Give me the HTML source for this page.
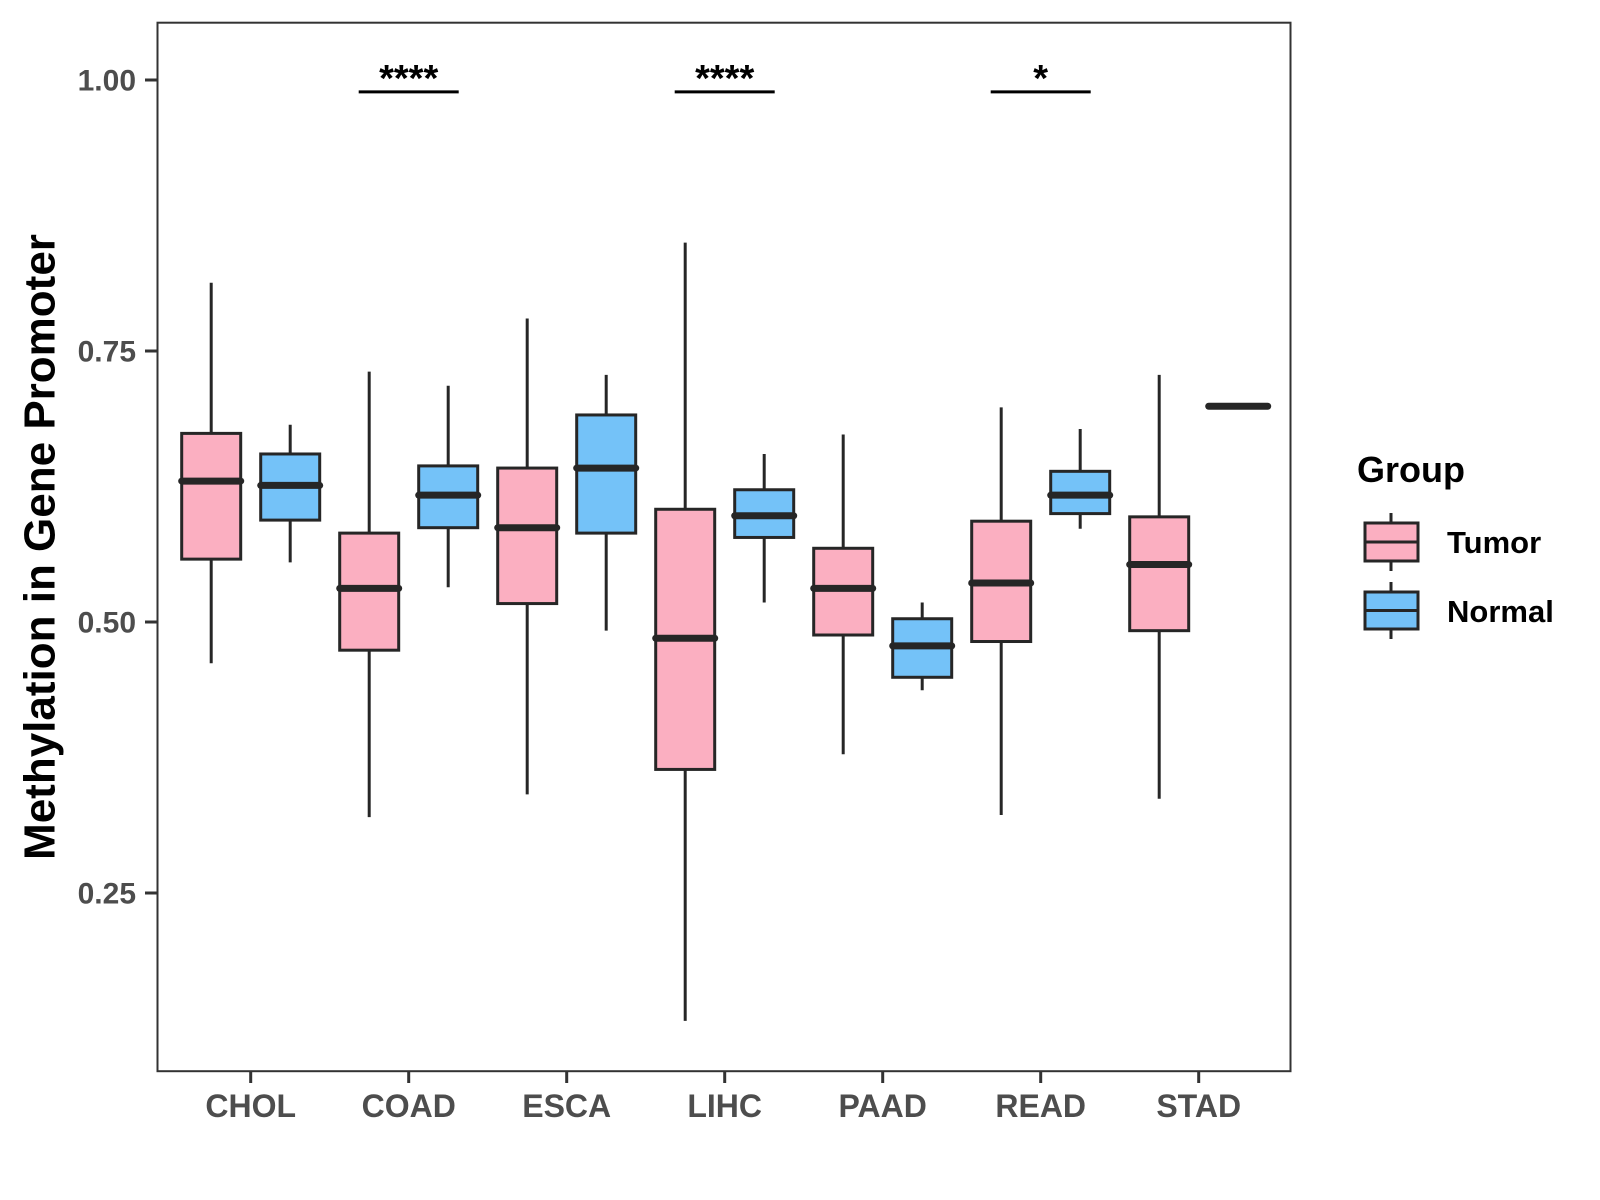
<!DOCTYPE html>
<html><head><meta charset="utf-8"><style>
html,body{margin:0;padding:0;background:#fff}
svg{display:block}
text{font-family:"Liberation Sans",Arial,sans-serif;font-weight:bold}
</style></head>
<body>
<svg id="chart" width="1600" height="1200" viewBox="0 0 1600 1200" xmlns="http://www.w3.org/2000/svg">
<rect x="0" y="0" width="1600" height="1200" fill="#fff"/>
<g id="marks"></g>
<rect x="157.5" y="22.7" width="1133" height="1048.5" fill="none" stroke="#333" stroke-width="2"/>
<g id="axes"></g>
<text x="40" y="547" transform="rotate(-90 40 547)" text-anchor="middle" dominant-baseline="central" font-size="44" fill="#000">Methylation in Gene Promoter</text>
<g>
<text x="1357" y="482" font-size="36" fill="#000">Group</text>
<g>
<line x1="1391" y1="513" x2="1391" y2="571" stroke="#262626" stroke-width="3"/>
<rect x="1365" y="523" width="53" height="38" fill="#FBAFC1" stroke="#262626" stroke-width="3"/>
<line x1="1365" y1="542" x2="1418" y2="542" stroke="#262626" stroke-width="3"/>
<text x="1447" y="553" font-size="31" fill="#000">Tumor</text>
</g>
<g>
<line x1="1391" y1="582" x2="1391" y2="639" stroke="#262626" stroke-width="3"/>
<rect x="1365" y="592" width="53" height="37" fill="#74C2F8" stroke="#262626" stroke-width="3"/>
<line x1="1365" y1="610.5" x2="1418" y2="610.5" stroke="#262626" stroke-width="3"/>
<text x="1447" y="622" font-size="31" fill="#000">Normal</text>
</g>
</g>
</svg>
<script>
const categories = ["CHOL","COAD","ESCA","LIHC","PAAD","READ","STAD"];
// [whiskerLow, q1, median, q3, whiskerHigh]
const tumorStats = [
  [0.462,0.558,0.630,0.674,0.813],
  [0.320,0.474,0.531,0.582,0.731],
  [0.341,0.517,0.587,0.642,0.780],
  [0.132,0.364,0.485,0.604,0.850],
  [0.378,0.488,0.531,0.568,0.673],
  [0.322,0.482,0.536,0.593,0.698],
  [0.337,0.492,0.553,0.597,0.728]
];
const normalStats = [
  [0.555,0.594,0.626,0.655,0.682],
  [0.532,0.587,0.617,0.644,0.718],
  [0.492,0.582,0.642,0.691,0.728],
  [0.518,0.578,0.598,0.622,0.655],
  [0.437,0.449,0.478,0.503,0.518],
  [0.586,0.600,0.617,0.639,0.678],
  [0.699,0.699,0.699,0.699,0.699]
];
const yTicks = [0.25,0.50,0.75,1.00];
const yTickLabels = ["0.25","0.50","0.75","1.00"];
const sigCategories = ["COAD","LIHC","READ"];
const sigLabels = ["****","****","*"];
const sigLevel = 0.989;

const NS="http://www.w3.org/2000/svg";
function yScale(v){ return 80 + (1 - v) * 1084; }
function xScale(i){ return 250.7 + 158 * i; }
const marks=document.getElementById('marks');
const axes=document.getElementById('axes');
function mk(tag,attrs,parent){const e=document.createElementNS(NS,tag);for(const k in attrs)e.setAttribute(k,attrs[k]);parent.appendChild(e);return e;}

function drawBox(s,cx,fill,name){
  const g=mk('g',{},marks);
  
  
  const hw=29.5;
  mk('line',{x1:cx,x2:cx,y1:yScale(s[4]),y2:yScale(s[0]),stroke:'#262626','stroke-width':3},g);
  const top=yScale(s[3]),bot=yScale(s[1]);
  mk('rect',{x:cx-hw,y:top,width:2*hw,height:Math.max(bot-top,0),fill:fill,stroke:'#262626','stroke-width':3},g);
  mk('line',{x1:cx-hw,x2:cx+hw,y1:yScale(s[2]),y2:yScale(s[2]),stroke:'#262626','stroke-width':7,'stroke-linecap':'round'},g);
}
categories.forEach((c,i)=>{
  drawBox(tumorStats[i],xScale(i)-39.5,'#FBAFC1','box-tumor-'+c.toLowerCase());
  drawBox(normalStats[i],xScale(i)+39.5,'#74C2F8','box-normal-'+c.toLowerCase());
  const t=mk('line',{x1:xScale(i),x2:xScale(i),y1:1072,y2:1083,stroke:'#333','stroke-width':3},axes);
  
  
  const l=mk('text',{x:xScale(i),y:1117,'text-anchor':'middle','font-size':32,fill:'#4d4d4d'},axes);
  
  
  l.textContent=c;
});
yTicks.forEach((v,i)=>{
  const t=mk('line',{x1:145,x2:157,y1:yScale(v),y2:yScale(v),stroke:'#333','stroke-width':3},axes);
  
  
  const l=mk('text',{x:136,y:yScale(v)+10.5,'text-anchor':'end','font-size':30,fill:'#4d4d4d'},axes);
  
  
  l.textContent=yTickLabels[i];
});
sigCategories.forEach((c,k)=>{
  const i=categories.indexOf(c);
  const cx=xScale(i);
  const ln=mk('line',{x1:cx-50,x2:cx+50,y1:yScale(sigLevel),y2:yScale(sigLevel),stroke:'#000','stroke-width':3},marks);
  
  
  const t=mk('text',{x:cx,y:yScale(sigLevel)-1,'text-anchor':'middle','font-size':38,fill:'#000'},marks);
  
  
  t.textContent=sigLabels[k];
});
</script>
</body></html>
